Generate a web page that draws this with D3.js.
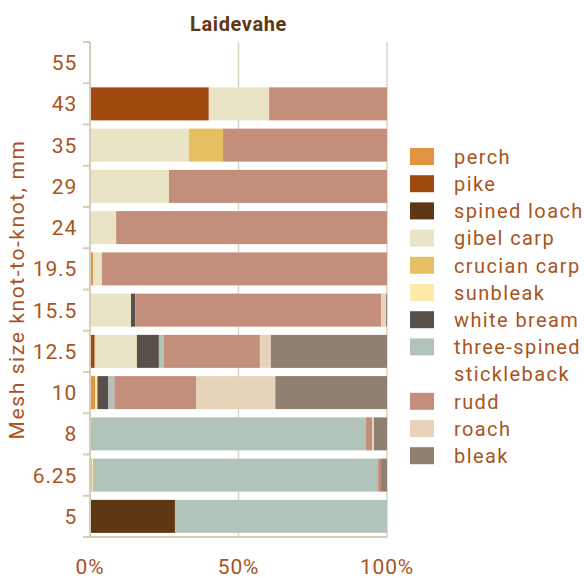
<!DOCTYPE html>
<html>
<head>
<meta charset="utf-8">
<script src="https://cdn.jsdelivr.net/npm/d3@7"></script>
<style>
  body { margin: 0; background: #fff; }
  text { font-family: Roboto, "Noto Sans", sans-serif; }
</style>
</head>
<body>
<div id="chart"></div>
<script>
const meshSizes = ["55", "43", "35", "29", "24", "19.5", "15.5", "12.5", "10", "8", "6.25", "5"];
const species = ["perch", "pike", "spined loach", "gibel carp", "crucian carp", "sunbleak",
  "white bream", "three-spined stickleback", "rudd", "roach", "bleak"];
const colors = ["#e39440", "#a0490e", "#5e3713", "#e9e4c5", "#e6bf62", "#fdeaaa",
  "#59504c", "#b2c4ba", "#c48f7a", "#e6d3ba", "#8f8070"];

// share per mesh size (%), in species order
const perch       = [0, 0, 0, 0, 0, 1, 0, 0, 1.7, 0, 0, 0];
const pike        = [0, 40, 0, 0, 0, 0, 0, 1.6, 0, 0, 0, 0];
const spinedLoach = [0, 0, 0, 0, 0, 0, 0, 0, 0, 0, 0.5, 28.6];
const gibelCarp   = [0, 20.3, 33.3, 26.6, 8.8, 3, 13.8, 14.2, 0, 0, 0, 0];
const crucianCarp = [0, 0, 11.5, 0, 0, 0, 0, 0, 0, 0, 0, 0];
const sunbleak    = [0, 0, 0, 0, 0, 0, 0, 0, 0.8, 0, 0.5, 0];
const whiteBream  = [0, 0, 0, 0, 0, 0, 1.4, 7.4, 3.7, 0, 0, 0];
const stickleback = [0, 0, 0, 0, 0, 0, 0, 1.7, 2, 92.9, 96, 71.4];
const rudd        = [0, 39.7, 55.2, 73.4, 91.2, 96, 82.8, 32.3, 27.6, 2.1, 1, 0];
const roach       = [0, 0, 0, 0, 0, 0, 1.7, 3.7, 26.6, 0.6, 0, 0];
const bleak       = [0, 0, 0, 0, 0, 0, 0.3, 39.1, 37.6, 4.4, 2, 0];
const xTicks = [0, 50, 100];

const series = [perch, pike, spinedLoach, gibelCarp, crucianCarp, sunbleak,
  whiteBream, stickleback, rudd, roach, bleak];

const table = meshSizes.map((m, i) => {
  const row = { mesh: m };
  species.forEach((s, j) => row[s] = series[j][i]);
  return row;
});

const width = 584, height = 578;
const margin = { top: 42, right: 197, bottom: 41, left: 90 };
const textColor = "#a8541e";

const svg = d3.select("#chart").append("svg")
  .attr("width", width).attr("height", height);

const x = d3.scaleLinear().domain([0, 100]).range([margin.left, width - margin.right]);
const y = d3.scaleBand().domain(meshSizes)
  .range([margin.top, height - margin.bottom]).paddingInner(0.2).paddingOuter(0.1);

// grid lines
svg.append("g").selectAll("line")
  .data(xTicks.slice(1))
  .join("line")
  .attr("x1", d => x(d)).attr("x2", d => x(d))
  .attr("y1", margin.top).attr("y2", height - margin.bottom)
  .attr("stroke", "#ddd3c3").attr("stroke-width", 1.5);

const stacked = d3.stack().keys(species)(table);

svg.append("g").selectAll("g")
  .data(stacked)
  .join("g")
  .attr("fill", (d, i) => colors[i])
  .selectAll("rect")
  .data(d => d)
  .join("rect")
  .attr("x", d => x(d[0]))
  .attr("y", d => y(d.data.mesh))
  .attr("width", d => x(d[1]) - x(d[0]))
  .attr("height", y.bandwidth());

// left axis
const yTop = y.range()[0], yBot = y.range()[1];
const yAxisG = svg.append("g");
yAxisG.append("line")
  .attr("x1", margin.left).attr("x2", margin.left)
  .attr("y1", yTop).attr("y2", yBot)
  .attr("stroke", "#d6ccb8").attr("stroke-width", 2);
yAxisG.selectAll(".tk")
  .data(d3.range(meshSizes.length + 1))
  .join("line")
  .attr("x1", margin.left - 7).attr("x2", margin.left)
  .attr("y1", i => yTop + i * (yBot - yTop) / meshSizes.length)
  .attr("y2", i => yTop + i * (yBot - yTop) / meshSizes.length)
  .attr("stroke", "#d6ccb8").attr("stroke-width", 2);
yAxisG.selectAll("text")
  .data(meshSizes)
  .join("text")
  .attr("x", margin.left - 13)
  .attr("y", d => y(d) + y.bandwidth() / 2)
  .attr("dy", "0.36em")
  .attr("text-anchor", "end")
  .attr("fill", textColor)
  .attr("font-size", 21)
  .attr("letter-spacing", 0.8)
  .text(d => d);

// bottom axis
const xAxisG = svg.append("g");
xAxisG.append("line")
  .attr("x1", margin.left - 7).attr("x2", x(100))
  .attr("y1", yBot).attr("y2", yBot)
  .attr("stroke", "#d6ccb8").attr("stroke-width", 2);
xAxisG.selectAll("text")
  .data(xTicks)
  .join("text")
  .attr("x", d => x(d))
  .attr("y", 574)
  .attr("text-anchor", "middle")
  .attr("fill", textColor)
  .attr("font-size", 21)
  .attr("letter-spacing", 0.8)
  .text(d => d + "%");

// y title
svg.append("text")
  .attr("transform", `translate(24, ${(yTop + yBot) / 2}) rotate(-90)`)
  .attr("text-anchor", "middle")
  .attr("fill", textColor)
  .attr("font-size", 21)
  .attr("letter-spacing", 1.6)
  .text("Mesh size knot-to-knot, mm");

// title
svg.append("text")
  .attr("x", (x(0) + x(100)) / 2)
  .attr("y", 31)
  .attr("text-anchor", "middle")
  .attr("fill", "#5e3713")
  .attr("font-size", 20)
  .attr("font-weight", "bold")
  .attr("letter-spacing", 0.6)
  .text("Laidevahe");

// legend
const legendRows = [];
let row = 0;
species.forEach((s, i) => {
  const lines = s === "three-spined stickleback" ? ["three-spined", "stickleback"] : [s];
  legendRows.push({ name: s, lines, color: colors[i], row });
  row += lines.length;
});
const legend = svg.append("g").attr("transform", "translate(410, 148)");
const item = legend.selectAll("g")
  .data(legendRows)
  .join("g")
  .attr("transform", d => `translate(0, ${d.row * 27.2})`);
item.append("rect")
  .attr("width", 24).attr("height", 17)
  .attr("fill", d => d.color);
item.append("text")
  .attr("x", 44)
  .attr("fill", textColor)
  .attr("font-size", 20)
  .attr("letter-spacing", 1.4)
  .selectAll("tspan")
  .data(d => d.lines)
  .join("tspan")
  .attr("x", 44)
  .attr("y", (d, i) => 8.5 + i * 27.2)
  .attr("dy", "0.36em")
  .text(d => d);
</script>
</body>
</html>
